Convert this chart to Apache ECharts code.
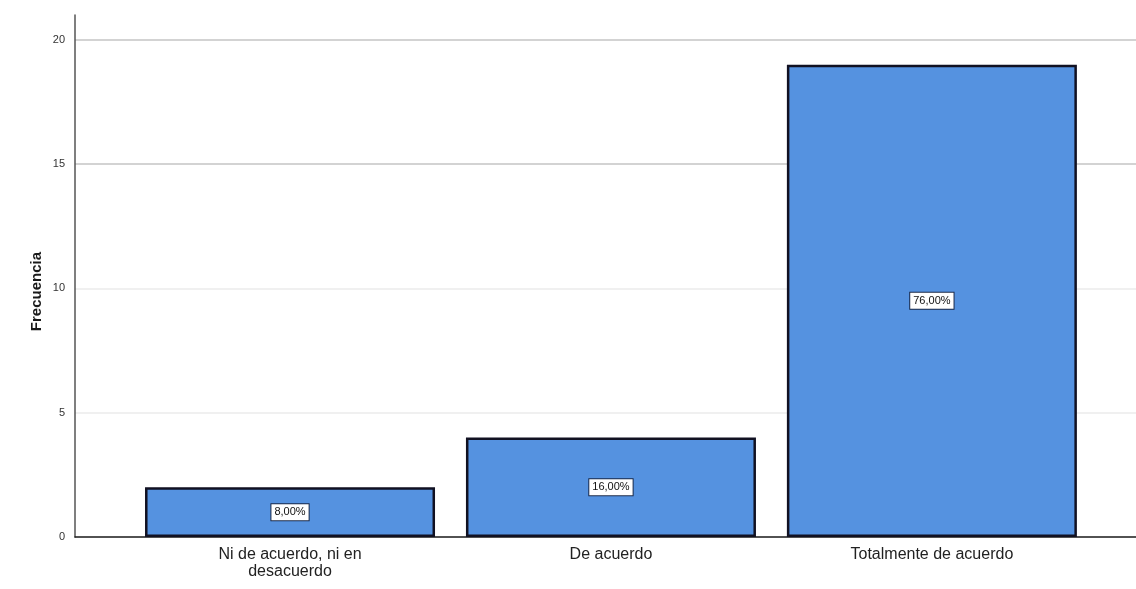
<!DOCTYPE html>
<html>
<head>
<meta charset="utf-8">
<script src="https://cdn.jsdelivr.net/npm/echarts@6/dist/echarts.min.js"></script>
<style>
  html, body { margin: 0; padding: 0; background: #ffffff; }
  #chart { width: 1136px; height: 589px; }
</style>
</head>
<body>
<div id="chart"></div>
<script>
// Response categories and their frequencies
const categories = ['Ni de acuerdo, ni en\ndesacuerdo', 'De acuerdo', 'Totalmente de acuerdo'];
const counts = [2, 4, 19];
const yTicks = [0, 5, 10, 15, 20];

const total = counts.reduce((a, b) => a + b, 0);
const pctLabel = v => (v / total * 100).toFixed(2).replace('.', ',') + '%';

const chart = echarts.init(document.getElementById('chart'));

chart.setOption({
  animation: false,
  backgroundColor: '#ffffff',
  grid: { left: 75, right: 0, top: 15, bottom: 52 },
  xAxis: {
    type: 'value',
    min: -0.67,
    max: 2.636,
    axisLine: { show: true, onZero: false, lineStyle: { color: '#222222', width: 1.5 } },
    axisTick: { show: false },
    splitLine: { show: false },
    axisLabel: {
      customValues: [0, 1, 2],
      formatter: v => categories[Math.round(v)] || '',
      fontFamily: 'Liberation Sans, Arial, sans-serif',
      fontSize: 16,
      lineHeight: 17,
      color: '#222222',
      margin: 9
    }
  },
  yAxis: {
    type: 'value',
    min: 0,
    max: 21,
    interval: 5,
    axisLine: { show: true, onZero: false, lineStyle: { color: '#555555', width: 1.5 } },
    axisTick: { show: false },
    axisLabel: {
      showMaxLabel: false,
      formatter: v => (yTicks.indexOf(v) >= 0 ? String(v) : ''),
      fontFamily: 'Liberation Sans, Arial, sans-serif',
      fontSize: 11,
      color: '#333333',
      margin: 10
    },
    splitLine: {
      show: true,
      lineStyle: {
        color: ['#dddddd', '#ebebeb', '#ebebeb', '#c4c4c4', '#c4c4c4', 'rgba(0,0,0,0)'],
        width: 1.5
      }
    }
  },
  graphic: [{
    type: 'text',
    left: 29,
    top: 252,
    rotation: Math.PI / 2,
    style: {
      text: 'Frecuencia',
      font: 'bold 15px "Liberation Sans", Arial, sans-serif',
      fill: '#1a1a1a'
    }
  }],
  series: [{
    type: 'bar',
    barWidth: 290,
    data: counts.map((c, i) => [i, c]),
    itemStyle: {
      color: '#5592e0',
      borderColor: '#111122',
      borderWidth: 2.5
    },
    label: {
      show: true,
      position: 'inside',
      formatter: p => pctLabel(p.value[1]),
      fontFamily: 'Liberation Sans, Arial, sans-serif',
      fontSize: 11,
      color: '#111111',
      backgroundColor: '#ffffff',
      borderColor: '#1a2a4a',
      borderWidth: 1,
      padding: [3, 3, 2, 3]
    }
  }]
});
</script>
</body>
</html>
